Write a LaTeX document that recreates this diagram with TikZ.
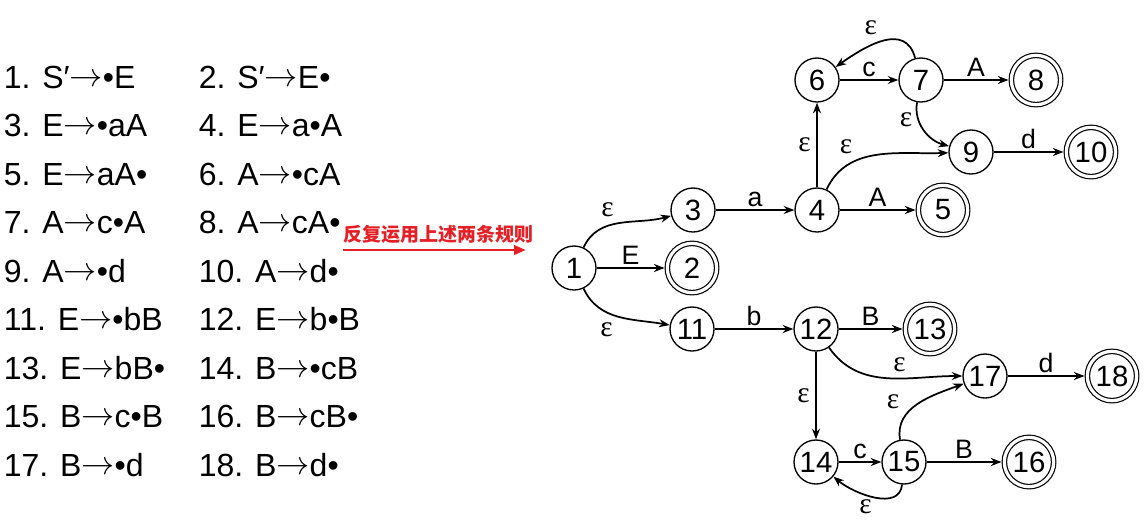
\documentclass[tikz,border=0pt]{standalone}
\usepackage{fontspec}
\setmainfont{Liberation Sans}
\newfontfamily\epsfont{Liberation Serif}
\newfontfamily\cjkfont{Noto Sans CJK SC}
\usetikzlibrary{positioning, arrows.meta}
\definecolor{rulered}{RGB}{228,32,38}
\newcommand{\prodarrow}{\raisebox{0.06em}{$\rightarrow$}}
\tikzset{
  state/.style={
    draw, circle, on grid, minimum size=33pt, inner sep=0pt, line width=1pt,
    font=\fontsize{22}{22}\selectfont
  },
  final/.style={state, double, double distance=2.4pt, line width=0.9pt,
    minimum size=37pt, outer sep=2.1pt},
  item/.style={anchor=base west, inner sep=0pt, font=\fontsize{24}{28}\selectfont},
  lbl/.style={font=\fontsize{20}{20}\selectfont, inner sep=2pt},
  eps/.style={font=\epsfont\fontsize{22}{22}\selectfont, inner sep=4pt},
  -{Stealth[length=8pt,width=6pt]},auto
}

\begin{document}
\begin{tikzpicture}[x=0.75pt, y=0.75pt, line width=1.3pt]
  \useasboundingbox (0,0) rectangle (1147,-522);

  % LR(0) items
  \foreach \row/\lft/\rgt in {0/{1. S′\prodarrow•E}/{2. S′\prodarrow E•},
      1/{3. E\prodarrow•aA}/{4. E\prodarrow a•A},
      2/{5. E\prodarrow aA•}/{6. A\prodarrow•cA},
      3/{7. A\prodarrow c•A}/{8. A\prodarrow cA•},
      4/{9. A\prodarrow•d}/{10. A\prodarrow d•},
      5/{11. E\prodarrow•bB}/{12. E\prodarrow b•B},
      6/{13. E\prodarrow bB•}/{14. B\prodarrow•cB},
      7/{15. B\prodarrow c•B}/{16. B\prodarrow cB•},
      8/{17. B\prodarrow•d}/{18. B\prodarrow d•}}{
    \node[item] (ia\row) at (3,{-88-48.5*\row}) {\lft};
    \node[item] (ib\row) at (198,{-88-48.5*\row}) {\rgt};
  }

  % rule arrow
  \coordinate (rs) at (343,-250);
  \coordinate (re) at (526,-250);
  \draw[rulered, line width=2.2pt, -{Triangle[length=9pt,width=7pt]}] (rs) -- (re);
  \node[rulered, anchor=south west, inner sep=0pt,
    font=\cjkfont\bfseries\fontsize{14.25}{15}\selectfont] (rule) at ([yshift=4pt]rs)
    {反复运用上述两条规则};

  % NFA
  \node[state] (n1) at (574,-268) {1};
  \node[final, right=88.5pt of n1] (n2) {2};
  \node[state, above right=43.5pt and 89.25pt of n1] (n3) {3};
  \node[state, right=93pt of n3] (n4) {4};
  \node[final, right=94.5pt of n4] (n5) {5};
  \node[state, above=97.5pt of n4] (n6) {6};
  \node[state, right=78pt of n6] (n7) {7};
  \node[final, right=86.25pt of n7] (n8) {8};
  \node[state, below right=54pt and 37.5pt of n7] (n9) {9};
  \node[final, right=90pt of n9] (n10) {10};
  \node[state, below right=45.75pt and 88.5pt of n1] (n11) {11};
  \node[state, right=93pt of n11] (n12) {12};
  \node[final, right=85.5pt of n12] (n13) {13};
  \node[state, below right=35.25pt and 126.75pt of n12] (n17) {17};
  \node[final, right=95.25pt of n17] (n18) {18};
  \node[state, below=99.75pt of n12] (n14) {14};
  \node[state, right=66pt of n14] (n15) {15};
  \node[final, right=93.75pt of n15] (n16) {16};

  \draw (n1)  edge[out=65,in=195]   node[eps] {ε} (n3)
              edge                  node[lbl] {E} (n2)
              edge[out=-65,in=170]  node[eps,swap] {ε} (n11)
        (n3)  edge                  node[lbl] {a} (n4)
        (n4)  edge                  node[eps] {ε} (n6)
              edge                  node[lbl] {A} (n5)
              edge[out=65,in=182]   node[eps,pos=0.35] {ε} (n9)
        (n6)  edge                  node[lbl] {c} (n7)
        (n7)  edge[out=105,in=35,looseness=1.2] node[eps,swap] {ε} (n6)
              edge                  node[lbl] {A} (n8)
              edge[out=-100,in=165] node[eps,pos=0.3,left] {ε} (n9)
        (n9)  edge                  node[lbl] {d} (n10)
        (n11) edge                  node[lbl] {b} (n12)
        (n12) edge                  node[lbl] {B} (n13)
              edge[out=-55,in=180]  node[eps] {ε} (n17)
              edge                  node[eps,swap] {ε} (n14)
        (n14) edge                  node[lbl] {c} (n15)
        (n15) edge                  node[lbl] {B} (n16)
              edge[out=100,in=200]  node[eps,pos=0.3] {ε} (n17)
              edge[out=-95,in=-40]  node[eps,inner sep=1.5pt] {ε} (n14)
        (n17) edge                  node[lbl] {d} (n18);
\end{tikzpicture}
\end{document}
